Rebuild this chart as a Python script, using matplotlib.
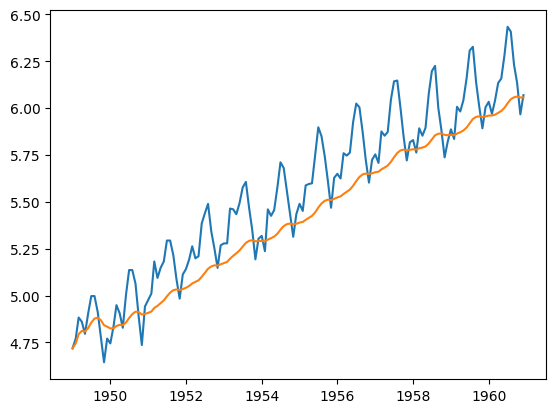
import numpy as np
import pandas as pd
import matplotlib
matplotlib.use("Agg")
import matplotlib.pyplot as plt

# monthly dates, Jan 1949 .. Dec 1960
months = pd.date_range("1949-01-01", periods=144, freq="MS")

# log of monthly airline passengers
log_passengers = [
    4.7185, 4.7707, 4.8828, 4.8598, 4.7958, 4.9053, 4.9972, 4.9972, 4.9127, 4.7791, 4.6444, 4.7707,
    4.7449, 4.8363, 4.9488, 4.9053, 4.8283, 5.0039, 5.1358, 5.1358, 5.0626, 4.8903, 4.7362, 4.9416,
    4.9767, 5.0106, 5.1818, 5.0938, 5.1475, 5.1818, 5.2933, 5.2933, 5.2149, 5.0876, 4.9836, 5.1120,
    5.1417, 5.1930, 5.2627, 5.1985, 5.2095, 5.3845, 5.4381, 5.4889, 5.3423, 5.2523, 5.1475, 5.2679,
    5.2781, 5.2781, 5.4638, 5.4596, 5.4337, 5.4931, 5.5759, 5.6058, 5.4681, 5.3519, 5.1930, 5.3033,
    5.3181, 5.2364, 5.4596, 5.4250, 5.4553, 5.5759, 5.7104, 5.6802, 5.5568, 5.4337, 5.3132, 5.4337,
    5.4889, 5.4510, 5.5872, 5.5947, 5.5984, 5.7526, 5.8972, 5.8493, 5.7430, 5.6131, 5.4681, 5.6276,
    5.6490, 5.6240, 5.7589, 5.7462, 5.7621, 5.9243, 6.0234, 6.0039, 5.8721, 5.7236, 5.6021, 5.7236,
    5.7526, 5.7071, 5.8749, 5.8522, 5.8721, 6.0450, 6.1420, 6.1463, 6.0014, 5.8493, 5.7203, 5.8171,
    5.8289, 5.7621, 5.8916, 5.8522, 5.8944, 6.0753, 6.1964, 6.2246, 6.0014, 5.8833, 5.7366, 5.8201,
    5.8861, 5.8348, 6.0064, 5.9814, 6.0403, 6.1570, 6.3063, 6.3261, 6.1377, 6.0088, 5.8916, 6.0039,
    6.0331, 5.9687, 6.0379, 6.1334, 6.1570, 6.2823, 6.4329, 6.4069, 6.2305, 6.1334, 5.9661, 6.0684,
]

# exponentially weighted average
weighted_avg = [
    4.7185, 4.7454, 4.7938, 4.8118, 4.8082, 4.8268, 4.8556, 4.8771, 4.8820, 4.8688, 4.8420, 4.8340,
    4.8245, 4.8257, 4.8376, 4.8439, 4.8425, 4.8565, 4.8800, 4.9010, 4.9139, 4.9121, 4.8987, 4.9019,
    4.9074, 4.9148, 4.9338, 4.9450, 4.9590, 4.9742, 4.9957, 5.0155, 5.0287, 5.0325, 5.0294, 5.0347,
    5.0415, 5.0511, 5.0643, 5.0727, 5.0812, 5.0999, 5.1206, 5.1430, 5.1551, 5.1610, 5.1602, 5.1666,
    5.1733, 5.1795, 5.1964, 5.2119, 5.2250, 5.2408, 5.2605, 5.2807, 5.2917, 5.2952, 5.2892, 5.2900,
    5.2917, 5.2885, 5.2984, 5.3057, 5.3143, 5.3293, 5.3512, 5.3700, 5.3807, 5.3837, 5.3797, 5.3828,
    5.3888, 5.3924, 5.4034, 5.4143, 5.4248, 5.4434, 5.4691, 5.4907, 5.5050, 5.5111, 5.5087, 5.5154,
    5.5230, 5.5287, 5.5417, 5.5533, 5.5650, 5.5853, 5.6100, 5.6322, 5.6458, 5.6502, 5.6474, 5.6517,
    5.6574, 5.6602, 5.6723, 5.6824, 5.6931, 5.7129, 5.7371, 5.7601, 5.7736, 5.7779, 5.7746, 5.7770,
    5.7799, 5.7789, 5.7853, 5.7890, 5.7949, 5.8107, 5.8324, 5.8544, 5.8627, 5.8638, 5.8567, 5.8546,
    5.8564, 5.8552, 5.8637, 5.8703, 5.8799, 5.8954, 5.9185, 5.9414, 5.9525, 5.9556, 5.9520, 5.9549,
    5.9593, 5.9599, 5.9642, 5.9738, 5.9841, 6.0008, 6.0251, 6.0466, 6.0569, 6.0612, 6.0559, 6.0566,
]

fig, ax = plt.subplots(figsize=(5.56, 4.14), dpi=100)
fig.subplots_adjust(left=0.0899, right=0.982, top=0.9734, bottom=0.0821)

ax.plot(months, log_passengers)
ax.plot(months, weighted_avg)

fig.savefig("out.png", dpi=100)
